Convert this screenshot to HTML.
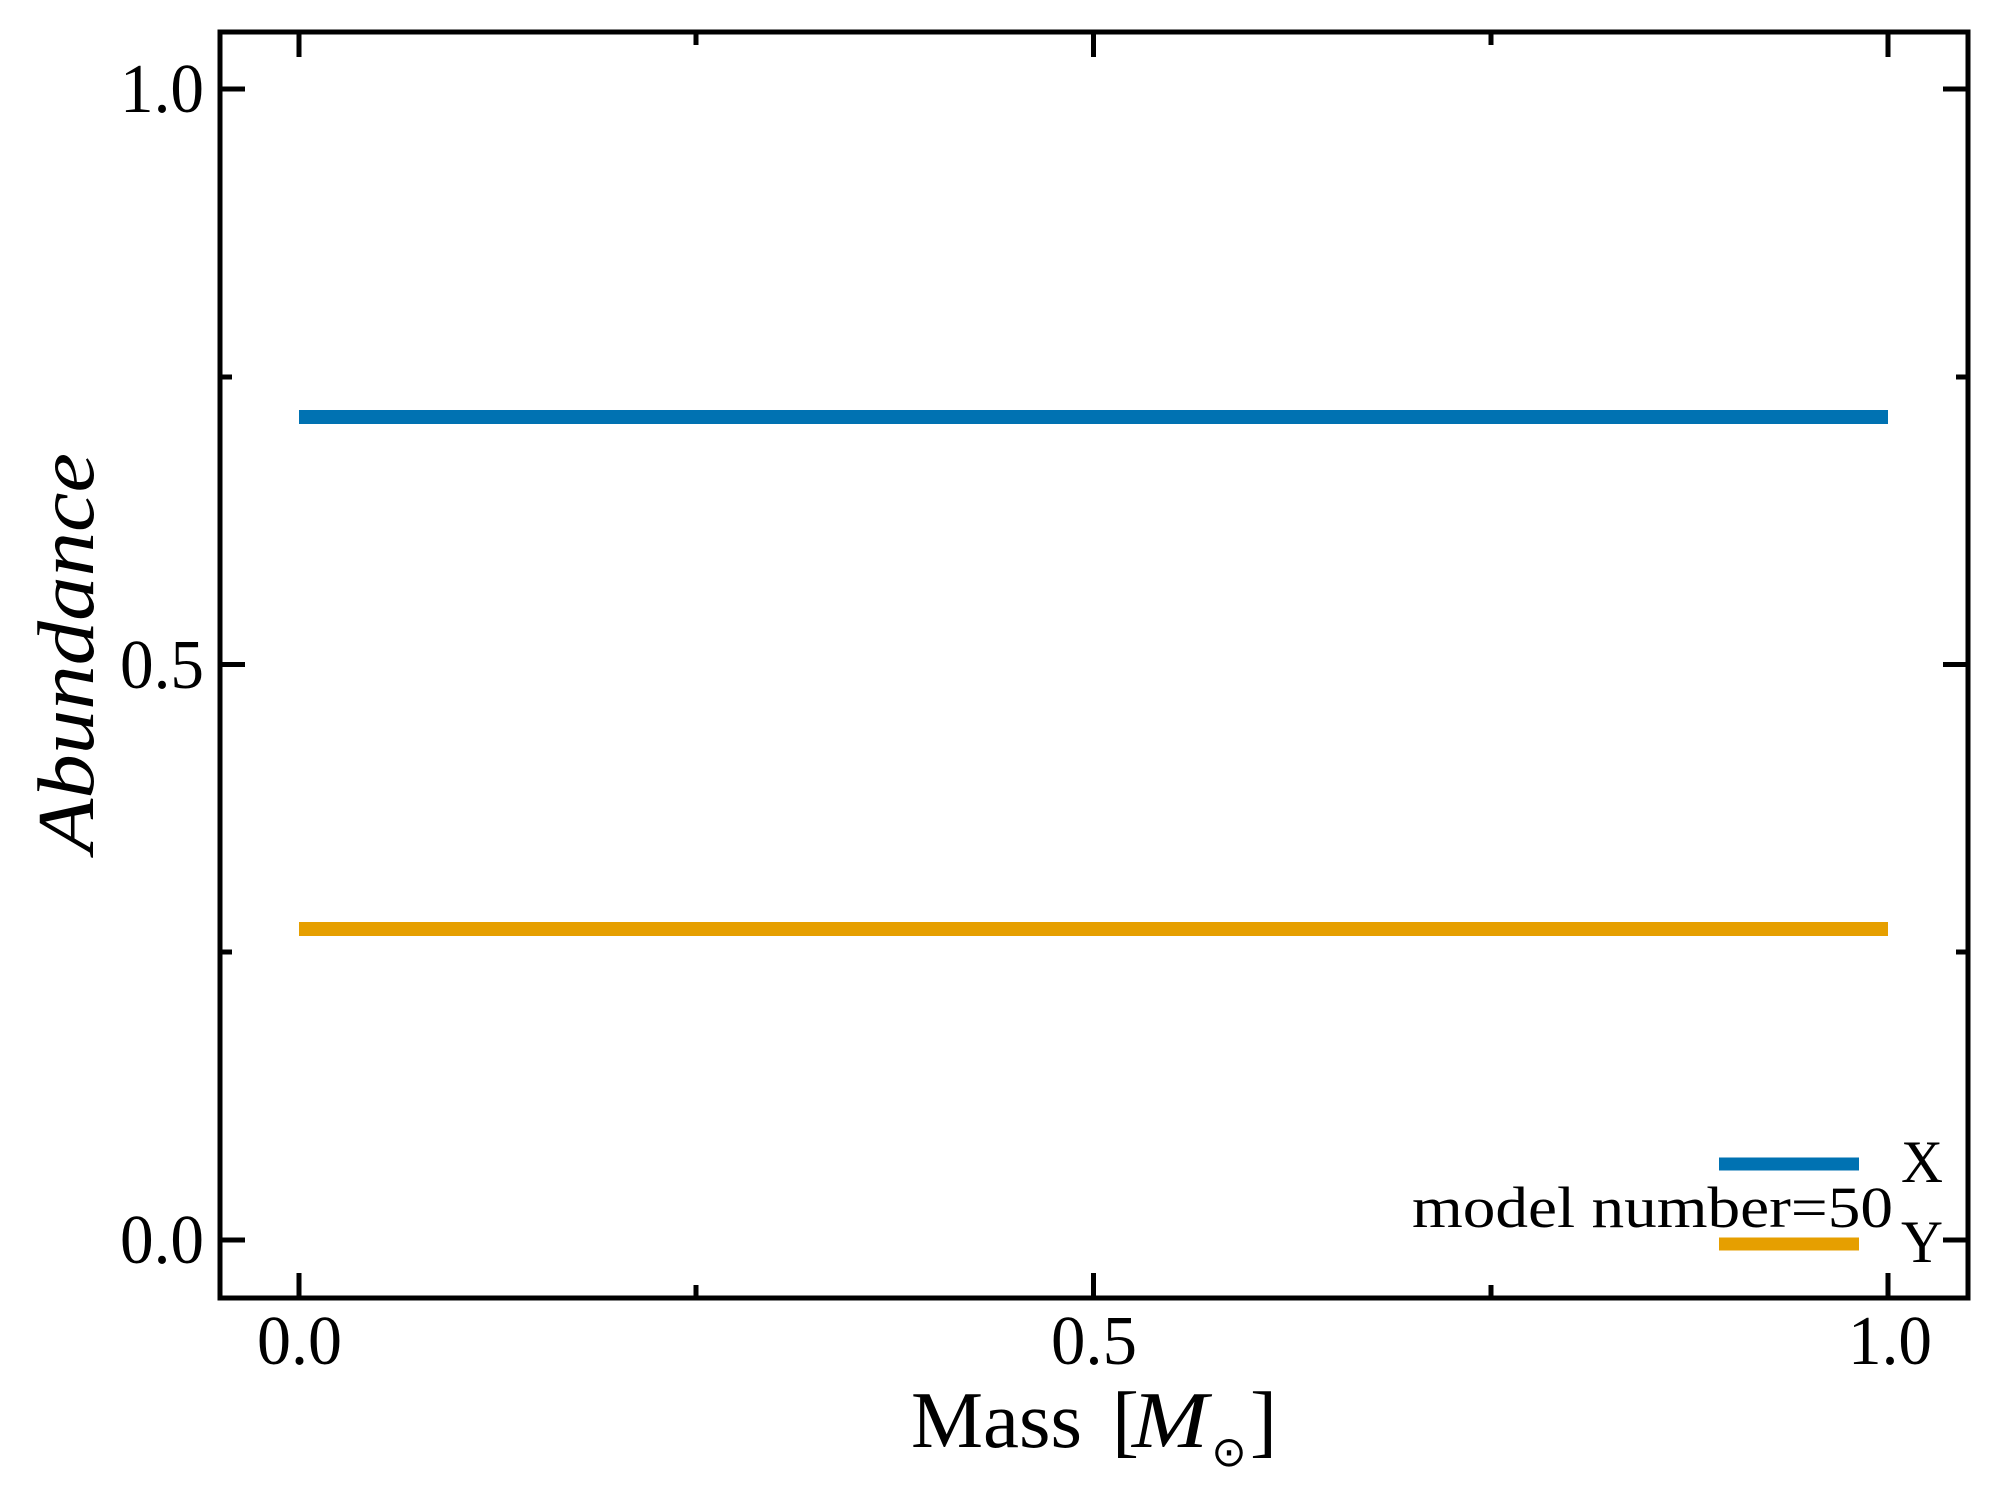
<!DOCTYPE html>
<html>
<head>
<meta charset="utf-8">
<style>
html,body{margin:0;padding:0;background:#fff;}
svg{display:block;}
text{font-family:"Liberation Serif","DejaVu Serif",serif;fill:#000;}
</style>
</head>
<body>
<svg width="2000" height="1500" viewBox="0 0 2000 1500" xmlns="http://www.w3.org/2000/svg">
<rect width="2000" height="1500" fill="#fff"/>

<!-- data lines -->
<line x1="299" y1="417" x2="1888" y2="417" stroke="#0072B2" stroke-width="14"/>
<line x1="299" y1="929" x2="1888" y2="929" stroke="#E69F00" stroke-width="14"/>

<!-- ticks -->
<g stroke="#000" stroke-width="5">
  <!-- bottom major -->
  <line x1="299" y1="1298" x2="299" y2="1273"/>
  <line x1="1093.5" y1="1298" x2="1093.5" y2="1273"/>
  <line x1="1888" y1="1298" x2="1888" y2="1273"/>
  <!-- bottom minor -->
  <line x1="696" y1="1298" x2="696" y2="1285"/>
  <line x1="1491" y1="1298" x2="1491" y2="1285"/>
  <!-- top major -->
  <line x1="299" y1="32" x2="299" y2="57"/>
  <line x1="1093.5" y1="32" x2="1093.5" y2="57"/>
  <line x1="1888" y1="32" x2="1888" y2="57"/>
  <!-- top minor -->
  <line x1="696" y1="32" x2="696" y2="45"/>
  <line x1="1491" y1="32" x2="1491" y2="45"/>
  <!-- left major -->
  <line x1="220" y1="89" x2="245" y2="89"/>
  <line x1="220" y1="664.5" x2="245" y2="664.5"/>
  <line x1="220" y1="1240" x2="245" y2="1240"/>
  <!-- left minor -->
  <line x1="220" y1="377" x2="232" y2="377"/>
  <line x1="220" y1="952" x2="232" y2="952"/>
  <!-- right major -->
  <line x1="1968" y1="89" x2="1943" y2="89"/>
  <line x1="1968" y1="664.5" x2="1943" y2="664.5"/>
  <line x1="1968" y1="1240" x2="1943" y2="1240"/>
  <!-- right minor -->
  <line x1="1968" y1="377" x2="1956" y2="377"/>
  <line x1="1968" y1="952" x2="1956" y2="952"/>
</g>

<!-- spines -->
<rect x="220" y="32" width="1748" height="1266" fill="none" stroke="#000" stroke-width="5"/>

<!-- y tick labels -->
<text x="204" y="112" font-size="70" text-anchor="end" textLength="84" lengthAdjust="spacingAndGlyphs">1.0</text>
<text x="204" y="688" font-size="70" text-anchor="end" textLength="84" lengthAdjust="spacingAndGlyphs">0.5</text>
<text x="204" y="1263" font-size="70" text-anchor="end" textLength="84" lengthAdjust="spacingAndGlyphs">0.0</text>

<!-- x tick labels -->
<text x="257" y="1364" font-size="70" textLength="85" lengthAdjust="spacingAndGlyphs">0.0</text>
<text x="1051" y="1364" font-size="70" textLength="86" lengthAdjust="spacingAndGlyphs">0.5</text>
<text x="1848" y="1364" font-size="70" textLength="84" lengthAdjust="spacingAndGlyphs">1.0</text>

<!-- x label -->
<text x="911" y="1447" font-size="81" textLength="171" lengthAdjust="spacingAndGlyphs">Mass</text>
<text x="1112" y="1447" font-size="81">[</text>
<text x="1132" y="1447" font-size="81" font-style="italic" textLength="76" lengthAdjust="spacingAndGlyphs">M</text>
<text x="1229" y="1466" font-size="42" text-anchor="middle" style="font-family:'DejaVu Sans',sans-serif">⊙</text>
<text x="1250" y="1447" font-size="81">]</text>

<!-- y label -->
<text transform="translate(93,653) rotate(-90)" x="0" y="0" font-size="81" font-style="italic" text-anchor="middle" textLength="400" lengthAdjust="spacingAndGlyphs">Abundance</text>

<!-- legend -->
<line x1="1719" y1="1164" x2="1859" y2="1164" stroke="#0072B2" stroke-width="13"/>
<line x1="1719" y1="1244" x2="1859" y2="1244" stroke="#E69F00" stroke-width="13"/>
<text x="1901" y="1182" font-size="60" textLength="42" lengthAdjust="spacingAndGlyphs">X</text>
<text x="1901" y="1262" font-size="60" textLength="42" lengthAdjust="spacingAndGlyphs">Y</text>
<text x="1412" y="1227" font-size="58" textLength="481" lengthAdjust="spacingAndGlyphs">model number=50</text>
</svg>
</body>
</html>
